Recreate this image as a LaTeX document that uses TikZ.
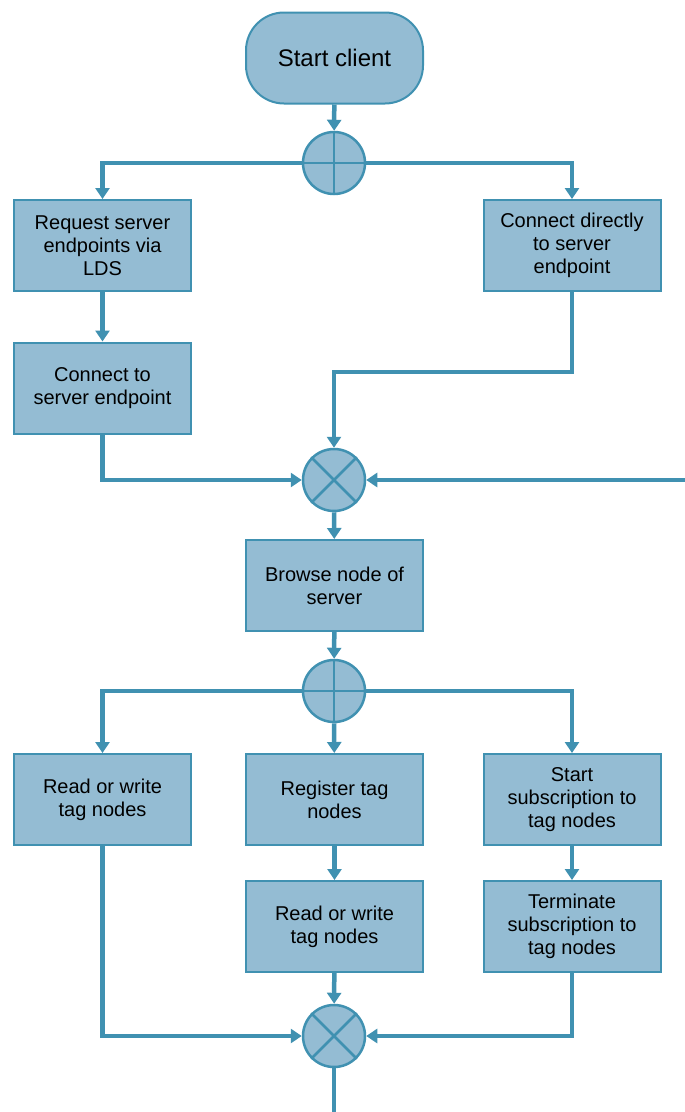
\documentclass[tikz,border=0pt]{standalone}
\usepackage{fontspec}
\setmainfont{Liberation Sans}
\usetikzlibrary{arrows.meta, positioning, calc}
\definecolor{boxfill}{RGB}{148,188,211}
\definecolor{flowline}{RGB}{64,145,177}

\begin{document}
\begin{tikzpicture}[
  x=1pt, y=-1pt,
  step box/.style={draw=flowline, line width=2pt, fill=boxfill, minimum width=177pt, minimum height=91pt,
    align=center, inner sep=2pt, font=\fontsize{20}{23}\selectfont},
  start box/.style={step box, rounded corners=38pt, font=\fontsize{24}{28}\selectfont},
  junction/.style={draw=flowline, line width=2.5pt, fill=boxfill, circle, minimum size=62pt, inner sep=0pt},
  link/.style={draw=flowline, line width=4.5pt},
  flow/.style={link, -{Triangle[length=11pt,width=14pt]}}
  ]
  \useasboundingbox (0,0) rectangle (685,1112);

  % Start
  \node[start box] (start) at (334.5,58) {Start client};
  \node[junction] (split1) at (334,163) {};
  \draw[flowline, line width=2.5pt] (split1.north) -- (split1.south) (split1.west) -- (split1.east);

  % Connect to server
  \node[step box] (request) at (102.5,245.5) {Request server\\endpoints via\\LDS};
  \node[step box] (direct) at (572,245.5) {Connect directly\\to server\\endpoint};
  \node[step box] (connect) at (102.5,388) {Connect to\\server endpoint};
  \node[junction] (merge1) at (334,480) {};
  \draw[flowline, line width=2.5pt] (merge1.north west) -- (merge1.south east) (merge1.north east) -- (merge1.south west);
  \coordinate (loopback) at (685,480);

  % Browse
  \node[step box] (browse) at (334.5,585.5) {Browse node of\\server};
  \node[junction] (split2) at (334,691) {};
  \draw[flowline, line width=2.5pt] (split2.north) -- (split2.south) (split2.west) -- (split2.east);

  % Tag node access
  \node[step box] (rwdirect) at (102.5,799.5) {Read or write\\tag nodes};
  \node[step box] (register) at (334.5,799.5) {Register tag\\nodes};
  \node[step box] (subscribe) at (572,799.5) {Start\\subscription to\\tag nodes};
  \node[step box] (rwreg) at (334.5,926.5) {Read or write\\tag nodes};
  \node[step box] (terminate) at (572,926.5) {Terminate\\subscription to\\tag nodes};
  \node[junction] (merge2) at (334,1036) {};
  \draw[flowline, line width=2.5pt] (merge2.north west) -- (merge2.south east) (merge2.north east) -- (merge2.south west);
  \coordinate (exit) at (334,1112);

  % Connectors
  \draw[flow] (start) -- (split1);
  \draw[flow] (split1.west) -| (request.north);
  \draw[flow] (split1.east) -| (direct.north);
  \draw[flow] (request) -- (connect);
  \draw[flow] (direct.south) -- ++(0,80) -| (merge1.north);
  \draw[flow] (connect.south) |- (merge1.west);
  \draw[flow] (loopback) -- (merge1.east);
  \draw[flow] (merge1) -- (browse);
  \draw[flow] (browse) -- (split2);
  \draw[flow] (split2.west) -| (rwdirect.north);
  \draw[flow] (split2) -- (register);
  \draw[flow] (split2.east) -| (subscribe.north);
  \draw[flow] (register) -- (rwreg);
  \draw[flow] (subscribe) -- (terminate);
  \draw[flow] (rwdirect.south) |- (merge2.west);
  \draw[flow] (rwreg) -- (merge2);
  \draw[flow] (terminate.south) |- (merge2.east);
  \draw[link] (merge2) -- (exit);
\end{tikzpicture}
\end{document}
